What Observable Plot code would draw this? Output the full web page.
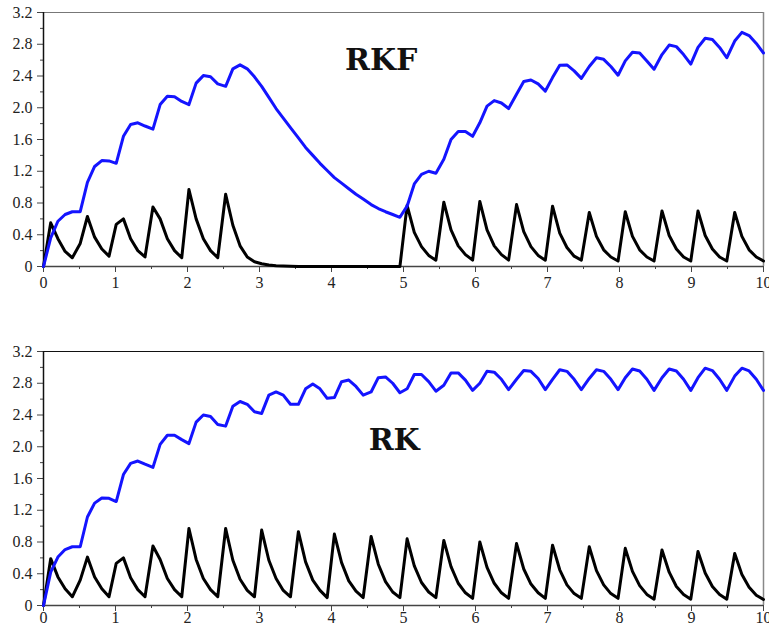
<!DOCTYPE html>
<html>
<head>
<meta charset="utf-8">
<script src="https://cdn.jsdelivr.net/npm/d3@7"></script>
<script src="https://cdn.jsdelivr.net/npm/@observablehq/plot@0.6"></script>
<style>
  html, body { margin: 0; padding: 0; background: #fff; }
  #chart svg { display: block; }
</style>
</head>
<body>
<div id="chart"></div>
<script>
// Solver output times (100 samples on [0, 10])
const time = [
  0, 0.10, 0.20, 0.30, 0.40, 0.51, 0.61, 0.71, 0.81, 0.91,
  1.01, 1.11, 1.21, 1.31, 1.41, 1.52, 1.62, 1.72, 1.82, 1.92,
  2.02, 2.12, 2.22, 2.32, 2.42, 2.53, 2.63, 2.73, 2.83, 2.93,
  3.03, 3.13, 3.23, 3.33, 3.43, 3.54, 3.64, 3.74, 3.84, 3.94,
  4.04, 4.14, 4.24, 4.34, 4.44, 4.55, 4.65, 4.75, 4.85, 4.95,
  5.05, 5.15, 5.25, 5.35, 5.45, 5.56, 5.66, 5.76, 5.86, 5.96,
  6.06, 6.16, 6.26, 6.36, 6.46, 6.57, 6.67, 6.77, 6.87, 6.97,
  7.07, 7.17, 7.27, 7.37, 7.47, 7.58, 7.68, 7.78, 7.88, 7.98,
  8.08, 8.18, 8.28, 8.38, 8.48, 8.59, 8.69, 8.79, 8.89, 8.99,
  9.09, 9.19, 9.29, 9.39, 9.49, 9.60, 9.70, 9.80, 9.90, 10
];

// RKF run
const rkfBlue = [
  0, 0.36, 0.57, 0.655, 0.69, 0.69, 1.06, 1.26, 1.335, 1.33,
  1.30, 1.64, 1.79, 1.81, 1.77, 1.73, 2.04, 2.145, 2.14, 2.08,
  2.04, 2.31, 2.405, 2.39, 2.30, 2.27, 2.49, 2.54, 2.49, 2.39,
  2.27, 2.13, 1.99, 1.87, 1.75, 1.62, 1.50, 1.40, 1.30, 1.21,
  1.12, 1.05, 0.98, 0.91, 0.85, 0.78, 0.73, 0.69, 0.655, 0.62,
  0.76, 1.04, 1.16, 1.20, 1.175, 1.35, 1.60, 1.70, 1.70, 1.64,
  1.81, 2.02, 2.09, 2.06, 1.99, 2.17, 2.33, 2.35, 2.30, 2.21,
  2.38, 2.535, 2.54, 2.465, 2.37, 2.52, 2.63, 2.61, 2.52, 2.41,
  2.59, 2.70, 2.69, 2.59, 2.485, 2.67, 2.79, 2.77, 2.67, 2.55,
  2.76, 2.875, 2.86, 2.76, 2.63, 2.84, 2.95, 2.91, 2.81, 2.69
];
const rkfBlack = [
  0, 0.55, 0.35, 0.19, 0.11, 0.29, 0.63, 0.37, 0.22, 0.13,
  0.53, 0.60, 0.35, 0.20, 0.12, 0.75, 0.60, 0.35, 0.20, 0.11,
  0.97, 0.60, 0.35, 0.20, 0.11, 0.91, 0.52, 0.26, 0.12, 0.06,
  0.035, 0.02, 0.01, 0.006, 0.003, 0, 0, 0, 0, 0,
  0, 0, 0, 0, 0, 0, 0, 0, 0, 0,
  0.77, 0.43, 0.25, 0.14, 0.08, 0.81, 0.46, 0.26, 0.15, 0.08,
  0.82, 0.46, 0.26, 0.15, 0.08, 0.78, 0.44, 0.25, 0.14, 0.08,
  0.76, 0.42, 0.24, 0.13, 0.08, 0.68, 0.38, 0.21, 0.12, 0.07,
  0.69, 0.38, 0.21, 0.12, 0.07, 0.70, 0.39, 0.22, 0.12, 0.07,
  0.70, 0.39, 0.22, 0.12, 0.07, 0.68, 0.38, 0.21, 0.12, 0.07
];

// RK run
const rkBlue = [
  0, 0.42, 0.61, 0.705, 0.74, 0.74, 1.115, 1.29, 1.355, 1.35,
  1.31, 1.65, 1.79, 1.82, 1.78, 1.74, 2.03, 2.145, 2.145, 2.09,
  2.04, 2.31, 2.40, 2.38, 2.28, 2.26, 2.51, 2.57, 2.535, 2.44,
  2.42, 2.65, 2.69, 2.65, 2.535, 2.535, 2.73, 2.79, 2.73, 2.61,
  2.62, 2.82, 2.84, 2.76, 2.65, 2.69, 2.87, 2.88, 2.80, 2.68,
  2.73, 2.91, 2.91, 2.82, 2.70, 2.775, 2.93, 2.93, 2.84, 2.71,
  2.80, 2.95, 2.94, 2.85, 2.72, 2.85, 2.96, 2.95, 2.86, 2.72,
  2.85, 2.97, 2.95, 2.85, 2.72, 2.86, 2.97, 2.95, 2.85, 2.72,
  2.87, 2.98, 2.955, 2.85, 2.71, 2.87, 2.98, 2.955, 2.85, 2.71,
  2.87, 2.99, 2.96, 2.85, 2.71, 2.89, 2.99, 2.955, 2.85, 2.71
];
const rkBlack = [
  0, 0.59, 0.36, 0.21, 0.11, 0.32, 0.61, 0.36, 0.21, 0.11,
  0.53, 0.60, 0.35, 0.20, 0.11, 0.75, 0.58, 0.34, 0.20, 0.11,
  0.97, 0.58, 0.34, 0.20, 0.11, 0.97, 0.57, 0.33, 0.19, 0.11,
  0.95, 0.57, 0.34, 0.19, 0.11, 0.93, 0.55, 0.32, 0.19, 0.10,
  0.90, 0.54, 0.31, 0.18, 0.10, 0.87, 0.52, 0.30, 0.17, 0.10,
  0.84, 0.50, 0.29, 0.17, 0.10, 0.82, 0.49, 0.28, 0.16, 0.09,
  0.80, 0.48, 0.28, 0.16, 0.09, 0.78, 0.46, 0.27, 0.16, 0.09,
  0.76, 0.45, 0.26, 0.15, 0.09, 0.74, 0.44, 0.26, 0.15, 0.09,
  0.72, 0.43, 0.25, 0.14, 0.08, 0.70, 0.42, 0.24, 0.14, 0.08,
  0.68, 0.41, 0.24, 0.14, 0.08, 0.655, 0.39, 0.23, 0.13, 0.075
];

// Axis ticks
const yTicks = [0, 0.4, 0.8, 1.2, 1.6, 2.0, 2.4, 2.8, 3.2];
const yMinorTicks = [0.2, 0.6, 1.0, 1.4, 1.8, 2.2, 2.6, 3.0];
const xTicks = [0, 1, 2, 3, 4, 5, 6, 7, 8, 9, 10];
const xMinorTicks = [0.5, 1.5, 2.5, 3.5, 4.5, 5.5, 6.5, 7.5, 8.5, 9.5];
const panelTitles = ["RKF", "RK"];

function panel(title, blue, black, layout) {
  const rows = time.map((t, i) => ({t, blue: blue[i], black: black[i]}));
  return Plot.plot({
    width: 769,
    height: layout.height,
    marginLeft: 43,
    marginRight: 6,
    marginTop: layout.marginTop,
    marginBottom: layout.marginBottom,
    style: {fontFamily: "'Liberation Serif', 'Times New Roman', serif", fontSize: "16px", background: "#fff", color: "#222"},
    x: {domain: [0, 10]},
    y: {domain: [0, 3.2]},
    marks: [
      // frame
      Plot.ruleY([3.2], {stroke: layout.topColor, strokeWidth: 1.2}),
      Plot.ruleX([10], {stroke: "#888", strokeWidth: 1.5}),
      // axes
      Plot.axisY(yTicks, {label: null, tickSize: 6, tickPadding: 5, stroke: "#444", tickFormat: d => d === 0 ? "0" : d.toFixed(1)}),
      Plot.axisY(yMinorTicks, {label: null, tickSize: 3, stroke: "#444", tickFormat: null, text: null}),
      Plot.axisX(xTicks, {label: null, tickSize: 6, tickPadding: layout.xPadding, stroke: "#444", tickFormat: d => String(d)}),
      Plot.axisX(xMinorTicks, {label: null, tickSize: 3, stroke: "#444", tickFormat: null, text: null}),
      Plot.ruleX([0], {stroke: "#111", strokeWidth: 1.5}),
      Plot.ruleY([0], {stroke: "#444", strokeWidth: 1.5}),
      // series
      Plot.line(rows, {x: "t", y: "black", stroke: "#000", strokeWidth: 3}),
      Plot.line(rows, {x: "t", y: "blue", stroke: "#1414ff", strokeWidth: 3}),
      // method label
      Plot.text([title], {x: layout.titleX, y: layout.titleY, text: d => d, fontFamily: "'DejaVu Serif', serif", fontWeight: "bold", fontSize: 30, fill: "#111", textAnchor: "middle", lineAnchor: "middle"})
    ]
  });
}

const chart = document.getElementById("chart");
chart.append(
  panel(panelTitles[0], rkfBlue, rkfBlack, {height: 300, marginTop: 12, marginBottom: 34, topColor: "#777", titleX: 4.69, titleY: 2.60, xPadding: 4}),
  panel(panelTitles[1], rkBlue, rkBlack, {height: 327, marginTop: 51, marginBottom: 22, topColor: "#111", titleX: 4.87, titleY: 2.08, xPadding: 0})
);
</script>
</body>
</html>
